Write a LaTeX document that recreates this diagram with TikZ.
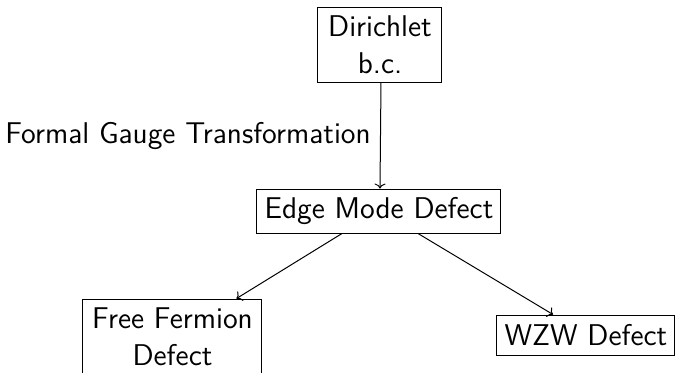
\documentclass[tikz,border=0pt]{standalone}
\usetikzlibrary{arrows.meta}
\begin{document}
\begin{tikzpicture}[x=0.5pt,y=-0.5pt,
  every node/.style={font=\sffamily\fontsize{15}{18.5}\selectfont},
  box/.style={draw, line width=0.5pt, inner sep=0pt, align=center},
  conn/.style={-{To[length=2.5pt,width=5.5pt]}, line width=0.5pt}]
\useasboundingbox (0,0) rectangle (677,372);
\node[box, minimum width=62pt, minimum height=37.5pt] (dir) at (380,44.5) {Dirichlet\\b.c.};
\node[box, minimum width=122pt, minimum height=22pt] (edge) at (379,211) {Edge Mode Defect};
\node[box, minimum width=89.5pt, minimum height=38pt] (ff) at (172.5,337) {Free Fermion\\Defect};
\node[box, minimum width=89pt, minimum height=20pt] (wzw) at (586,335) {WZW Defect};
\node (lab) at (188,136) {Formal Gauge Transformation};
\draw[conn] ([xshift=0.5pt]dir.south) -- ([xshift=0.5pt]edge.north);
\draw[conn] ([xshift=-18.5pt]edge.south) -- ([xshift=32pt]ff.north);
\draw[conn] ([xshift=19.5pt]edge.south) -- ([xshift=-16.5pt]wzw.north);
\end{tikzpicture}
\end{document}
